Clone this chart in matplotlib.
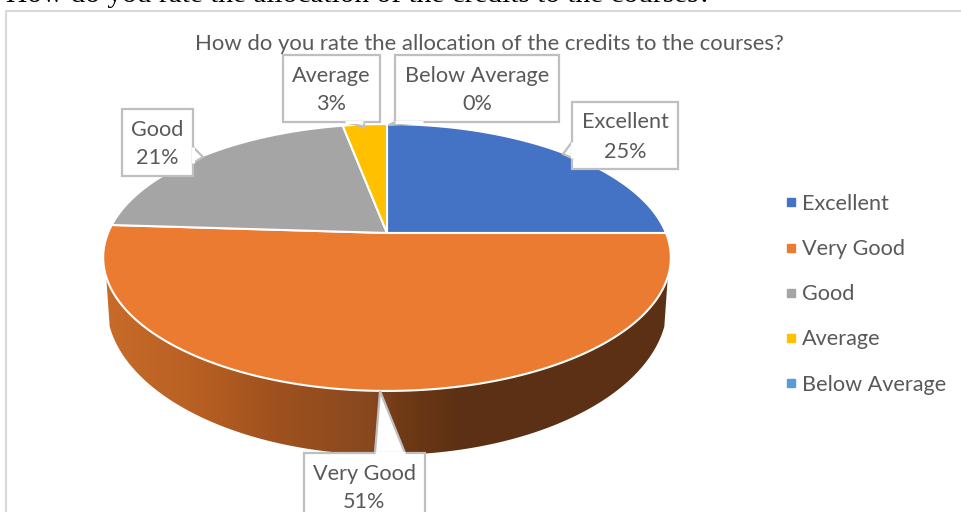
import numpy as np
import matplotlib
matplotlib.use("Agg")
import matplotlib.pyplot as plt
from matplotlib.lines import Line2D
from matplotlib.patches import Polygon

# chart data
categories = ["Excellent", "Very Good", "Good", "Average", "Below Average"]
values = [25, 51, 21, 3, 0]
colors = ["#4472C4", "#EB7B31", "#A5A5A5", "#FFC000", "#5B9BD5"]

chart_title = "How do you rate the allocation of the credits to the courses?"
page_heading = "How do you rate the allocation of the credits to the courses?"

TEXT_GREY = "#595959"
BOX_GREY = "#BFBFBF"

# pie projection, everything is in image pixels
CX, CY = 387, 233
RADIUS = 279
TILT = 0.1835
Y_SLOPE = -86.2

# callout outline: box (left, right, top, bottom) and pointer points
callouts = {
    "Excellent": ((572, 678, 102, 169), [(572, 142), (563, 154), (572, 158)]),
    "Very Good": ((304, 425, 453, 530), [(375, 453), (380, 391), (405, 453)]),
    "Good": ((122, 193, 109, 176), [(193, 147), (203, 157), (193, 163)]),
    "Average": ((283, 380, 55, 122), [(363, 122), (365, 127), (345, 122)]),
    "Below Average": ((395, 559, 55, 122), [(423, 122), (389, 125), (395, 122)]),
}


def project(theta):
    """Map a pie angle (clockwise from north, radians) onto the tilted disc."""
    u, v = np.sin(theta), np.cos(theta)
    den = TILT * v + 1
    return CX + RADIUS * u / den, (Y_SLOPE * v + CY) / den


def drop(x, y):
    """Move a point of the top face down to the bottom rim."""
    return CX + (x - CX) * 280 / 283.5, 304 + (y - 257) * 151 / 134


fig = plt.figure(figsize=(9.61, 5.12), dpi=100, facecolor="white")
ax = fig.add_axes([0, 0, 1, 1])

# side wall of the pie
theta_front = np.radians(np.linspace(108.7, 251.3, 300))
top_x, top_y = project(theta_front)
low_x, low_y = drop(top_x, top_y)
wall = np.column_stack((np.r_[top_x, low_x[::-1]], np.r_[top_y, low_y[::-1]]))
wall_patch = Polygon(wall, closed=True, fc="none", ec="none")
ax.add_patch(wall_patch)

stop_x = [100, 200, 270, 370, 400, 460, 540, 680]
stop_rgb = np.array([(200, 108, 42), (183, 95, 35), (160, 82, 30), (135, 72, 30),
                     (112, 58, 22), (92, 48, 20), (92, 48, 20), (92, 48, 20)]) / 255
grid_x = np.arange(100, 680)
gradient = np.stack([np.interp(grid_x, stop_x, stop_rgb[:, i]) for i in range(3)], axis=-1)
img = ax.imshow(gradient[np.newaxis, :, :], extent=(100, 680, 470, 230), aspect="auto", zorder=1)
img.set_clip_path(wall_patch)

# top face, one slice per category
start = 0.0
total = sum(values)
for name, val, col in zip(categories, values, colors):
    if val == 0:
        continue
    sweep = 2 * np.pi * val / total
    x, y = project(np.linspace(start, start + sweep, 200))
    ax.fill(np.r_[CX, x], np.r_[CY, y], fc=col, ec="white", lw=1.5, zorder=2, joinstyle="round")
    start += sweep

# data label callouts
for name, val in zip(categories, values):
    (left, right, top, bottom), pointer = callouts[name]
    ax.add_patch(Polygon([(left, top), (right, top), (right, bottom), (left, bottom)],
                         closed=True, fc="white", ec=BOX_GREY, lw=1.6, zorder=3))
    ax.add_patch(Polygon(pointer, closed=True, fc="white", ec=BOX_GREY, lw=1.6, zorder=4))
    # hide the box edge where the pointer joins it
    ax.plot([pointer[0][0], pointer[-1][0]], [pointer[0][1], pointer[-1][1]],
            color="white", lw=2.2, zorder=5, solid_capstyle="butt")
    ax.text((left + right) / 2, top + 20.5, name, ha="center", va="center",
            fontsize=15.6, color=TEXT_GREY, family="Lato", zorder=6)
    ax.text((left + right) / 2, top + 49.5, f"{val}%", ha="center", va="center",
            fontsize=15.6, color=TEXT_GREY, family="Lato", zorder=6)

# chart title and outer frame
ax.text(489.5, 43.5, chart_title, ha="center", va="center", fontsize=15.9, color=TEXT_GREY, family="Lato")
ax.plot([6, 6, 970], [520, 10.5, 10.5], color="#D9D9D9", lw=1.5, zorder=1)

# heading of the page behind the chart, cut off by the image edge
ax.text(6, 1.5, page_heading, ha="left", va="baseline", fontsize=21.2, color="black",
        family="Liberation Serif", clip_on=True)

handles = [Line2D([], [], ls="none", marker="s", ms=5.5, mfc=c, mec=c) for c in colors]
ax.legend(handles, categories, loc="upper left", bbox_to_anchor=(778 / 961, 1 - 194 / 512),
          bbox_transform=fig.transFigure, frameon=False, handletextpad=-0.1, handlelength=1.2,
          labelspacing=1.16, borderpad=0, borderaxespad=0, labelcolor=TEXT_GREY,
          prop={"family": "Lato", "size": 15.6})

ax.set_xlim(0, 961)
ax.set_ylim(512, 0)
ax.axis("off")

fig.savefig("out.png", dpi=100, facecolor="white")
